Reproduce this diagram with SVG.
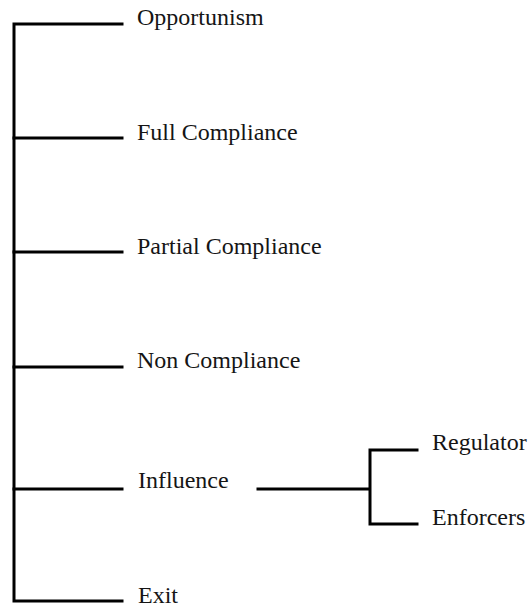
<svg xmlns="http://www.w3.org/2000/svg" width="530" height="607" viewBox="0 0 530 607">
<style>
.c{stroke:#000;stroke-width:3;fill:none;stroke-linecap:square}
text{font-family:"Liberation Serif","DejaVu Serif",serif;font-size:24px;fill:#151515}
</style>
<rect width="530" height="607" fill="#fff"/>
<g id="connectors">
<path class="c" d="M122,24 H14 V601 H122"/>
<path class="c" d="M14,138 H122 M14,252 H122 M14,367 H122 M14,489 H122"/>
<path class="c" d="M258,489 H370 M417,450 H370 V524 H417"/>
</g>
<g id="n-opportunism"><text x="137" y="25">Opportunism</text></g>
<g id="n-full"><text x="137" y="140">Full Compliance</text></g>
<g id="n-partial"><text x="137" y="254">Partial Compliance</text></g>
<g id="n-non"><text x="137" y="368">Non Compliance</text></g>
<g id="n-influence"><text x="138" y="488">Influence</text></g>
<g id="n-exit"><text x="138" y="603">Exit</text></g>
<g id="n-regulator"><text x="432" y="450">Regulator</text></g>
<g id="n-enforcers"><text x="432" y="525">Enforcers</text></g>
</svg>
